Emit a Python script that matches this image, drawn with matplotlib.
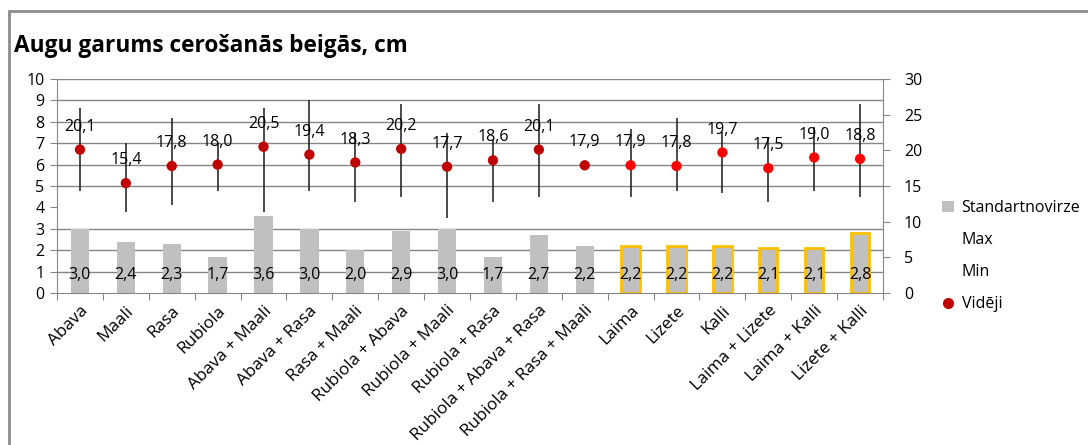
import numpy as np
import matplotlib.pyplot as plt
from matplotlib.patches import Rectangle
from matplotlib.lines import Line2D

plt.rcParams['font.family'] = ['Open Sans', 'DejaVu Sans']

# dati
skirnes = ["Abava", "Maali", "Rasa", "Rubiola", "Abava + Maali", "Abava + Rasa",
           "Rasa + Maali", "Rubiola + Abava", "Rubiola + Maali", "Rubiola + Rasa",
           "Rubiola + Abava + Rasa", "Rubiola + Rasa + Maali", "Laima", "Lizete",
           "Kalli", "Laima + Lizete", "Laima + Kalli", "Lizete + Kalli"]
std_novirze = [3.0, 2.4, 2.3, 1.7, 3.6, 3.0, 2.0, 2.9, 3.0, 1.7, 2.7, 2.2,
               2.2, 2.2, 2.2, 2.1, 2.1, 2.8]
videji = [20.1, 15.4, 17.8, 18.0, 20.5, 19.4, 18.3, 20.2, 17.7, 18.6, 20.1, 17.9,
          17.9, 17.8, 19.7, 17.5, 19.0, 18.8]
maks = [26.0, 21.0, 24.5, 21.0, 26.0, 27.1, 22.4, 26.5, 22.4, 21.5, 26.5, 18.3,
        23.0, 24.5, 22.5, 21.9, 23.3, 26.5]
mins = [14.3, 11.4, 12.3, 14.3, 11.4, 14.3, 12.8, 13.4, 10.5, 12.8, 13.4, 17.5,
        13.4, 14.3, 14.0, 12.8, 14.3, 13.4]

x = np.arange(len(skirnes))
jaunas = x >= 12  # pēdējās 6 šķirnes ar dzeltenu apmali

fig = plt.figure(figsize=(10.88, 4.45), dpi=100)
ax = fig.add_axes([0.0524, 0.3416, 0.7592, 0.4809])
ax2 = ax.twinx()

# rāmis ap visu attēlu
fig.patches.append(Rectangle((0.008, -0.05), 1.1, 1.025, transform=fig.transFigure,
                             fill=False, edgecolor='#8c8c8c', linewidth=2))

fig.text(0.013, 0.897, "Augu garums cerošanās beigās, cm", fontsize=16.3,
         fontweight='bold', va='center', ha='left')

# stabiņi (standartnovirze)
for i in x:
    ax.bar(i, std_novirze[i], width=0.4, color='#c0c0c0',
           edgecolor='#ffc000' if jaunas[i] else 'none',
           linewidth=2 if jaunas[i] else 0, zorder=2)
    ax.text(i, 0.84, f"{std_novirze[i]:.1f}".replace('.', ','), ha='center',
            va='center', fontsize=11.5, zorder=3)

# režģis (bez līnijas pie 4)
for yv in [1, 2, 3, 5, 6, 7, 8, 9, 10]:
    ax.axhline(yv, color='#868686', linewidth=1, zorder=1)

ax.set_xlim(-0.5, len(skirnes) - 0.5)
ax.set_ylim(0, 10)
ax.set_yticks(range(0, 11))
ax.set_xticks(np.arange(-0.5, len(skirnes), 1), minor=False)
ax.set_xticklabels([])
ax.set_xticks(x, minor=True)
ax.set_xticklabels(skirnes, minor=True, rotation=45, ha='right',
                   rotation_mode='anchor', fontsize=12.3)
ax.tick_params(axis='x', which='minor', length=0, pad=7)
ax.tick_params(axis='x', which='major', length=5, color='#868686')
ax.tick_params(axis='y', length=5, color='#868686', labelsize=11.5, pad=4)

for s in ['top', 'right']:
    ax.spines[s].set_visible(False)
    ax2.spines[s].set_visible(False)
ax.spines['left'].set_color('#868686')
ax.spines['bottom'].set_color('#868686')
ax2.spines['left'].set_visible(False)
ax2.spines['bottom'].set_visible(False)
ax2.spines['right'].set_visible(True)
ax2.spines['right'].set_color('#868686')

# min-max līnijas un vidējās vērtības
ax2.vlines(x, mins, maks, color='#1a1a1a', linewidth=1.1, zorder=3)
krasas = ['#ff0000' if j else '#c00000' for j in jaunas]
ax2.scatter(x, videji, s=55, c=krasas, zorder=4, linewidths=0)
for i in x:
    ax2.annotate(f"{videji[i]:.1f}".replace('.', ','), (i, videji[i]),
                 xytext=(0, 16.5), textcoords='offset points', ha='center',
                 va='center', fontsize=11.5, zorder=5)
ax2.set_ylim(0, 30)
ax2.set_yticks(range(0, 31, 5))
ax2.tick_params(axis='y', length=5, color='#868686', labelsize=11.5, pad=10)

# leģenda
handles = [Rectangle((0, 0), 1, 1, facecolor='#c0c0c0', edgecolor='none'),
           Line2D([], [], linestyle='none'),
           Line2D([], [], linestyle='none'),
           Line2D([], [], marker='o', linestyle='none', color='#c00000', markersize=7)]
fig.legend(handles, ["Standartnovirze", "Max", "Min", "Vidēji"],
           loc='upper left', bbox_to_anchor=(0.853, 0.582), frameon=False,
           fontsize=11.5, handlelength=0.7, handletextpad=0.5, labelspacing=1.0)

fig.savefig("out.png", dpi=100)
